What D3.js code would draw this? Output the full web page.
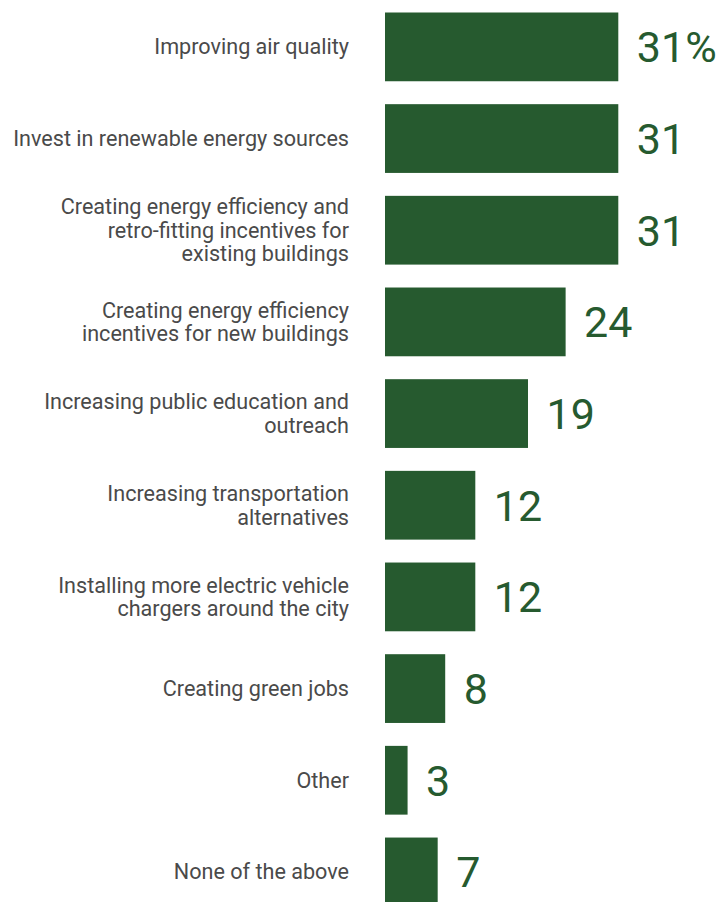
<!DOCTYPE html>
<html>
<head>
<meta charset="utf-8">
<script src="https://cdn.jsdelivr.net/npm/d3@7"></script>
<style>
  html, body { margin: 0; padding: 0; background: #ffffff; }
  svg { display: block; }
</style>
</head>
<body>
<svg id="chart" width="719" height="902"></svg>
<script>
// Survey responses: share of respondents choosing each priority
const categories = [
  ["Improving air quality"],
  ["Invest in renewable energy sources"],
  ["Creating energy efficiency and", "retro-fitting incentives for", "existing buildings"],
  ["Creating energy efficiency", "incentives for new buildings"],
  ["Increasing public education and", "outreach"],
  ["Increasing transportation", "alternatives"],
  ["Installing more electric vehicle", "chargers around the city"],
  ["Creating green jobs"],
  ["Other"],
  ["None of the above"]
];
const values = [31, 31, 31, 24, 19, 12, 12, 8, 3, 7];
const valueLabels = ["31%", "31", "31", "24", "19", "12", "12", "8", "3", "7"];

const svg = d3.select("#chart");
const green = "#265a2f";

const y = d3.scaleBand()
  .domain(d3.range(values.length))
  .range([12.5, 906.3])
  .paddingInner(0.25)
  .paddingOuter(0);

const x = d3.scaleLinear()
  .domain([0, 31])
  .range([385, 618.3]);

const rows = svg.selectAll("g.row")
  .data(values.map((v, i) => ({ v, i, lines: categories[i], label: valueLabels[i] })))
  .enter().append("g")
  .attr("class", "row");

rows.append("rect")
  .attr("x", x(0))
  .attr("y", d => y(d.i))
  .attr("width", d => x(d.v) - x(0))
  .attr("height", y.bandwidth())
  .attr("fill", green);

rows.append("text")
  .attr("x", d => x(d.v) + 18.5)
  .attr("y", d => y(d.i) + y.bandwidth() / 2)
  .attr("dy", "0.36em")
  .attr("font-family", "Roboto, sans-serif")
  .attr("font-size", 43)
  .attr("fill", green)
  .text(d => d.label);

const lineH = 23.5;
rows.append("text")
  .attr("text-anchor", "end")
  .attr("font-family", "Roboto, sans-serif")
  .attr("font-size", 21.6)
  .attr("fill", "#4a4a4a")
  .each(function(d) {
    const n = d.lines.length;
    const cy = y(d.i) + y.bandwidth() / 2;
    d3.select(this).selectAll("tspan")
      .data(d.lines)
      .enter().append("tspan")
      .attr("x", 349)
      .attr("y", (l, k) => cy + (k - (n - 1) / 2) * lineH)
      .attr("dy", "0.35em")
      .text(l => l);
  });
</script>
</body>
</html>
